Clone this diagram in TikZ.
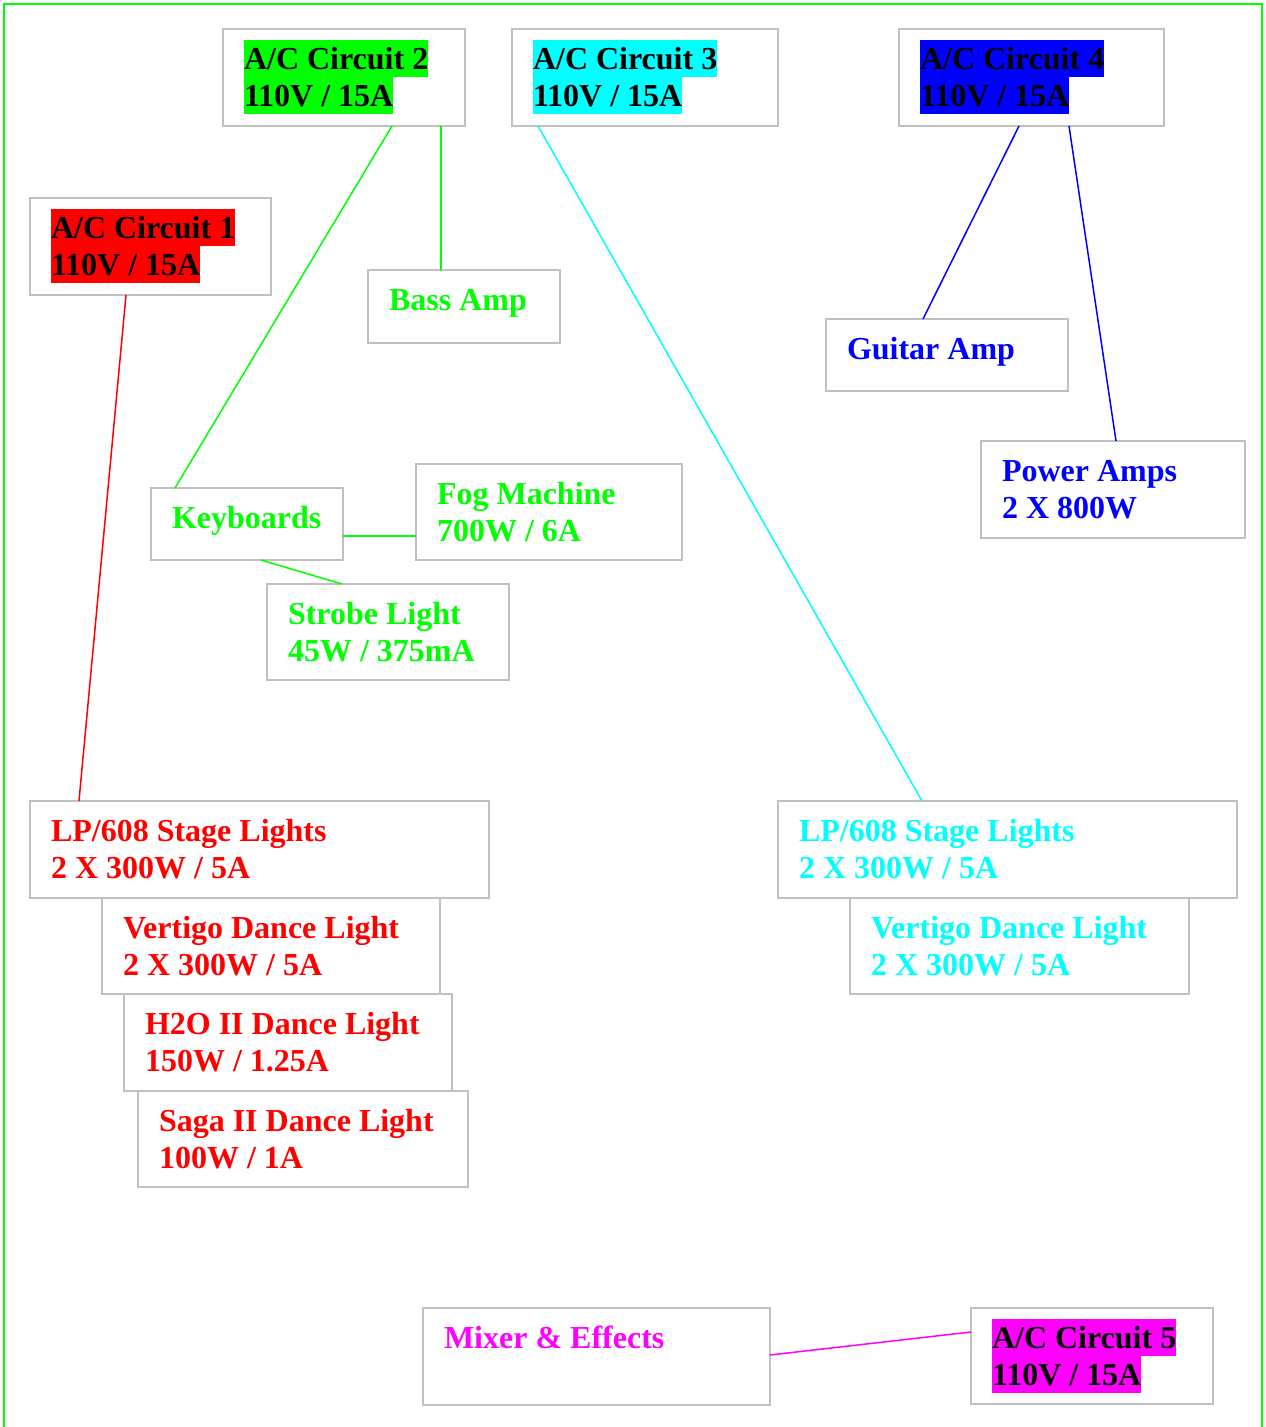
\documentclass[tikz,border=0pt]{standalone}
\usepackage{fontspec}
\setmainfont{Liberation Serif}
\usetikzlibrary{calc}
\definecolor{boxgray}{HTML}{C0C0C0}
\definecolor{cgreen}{HTML}{00FF00}
\definecolor{ccyan}{HTML}{00FFFF}
\definecolor{cblue}{HTML}{0000FF}
\definecolor{cred}{HTML}{FF0000}
\definecolor{cmag}{HTML}{FF00FF}
\newcommand\mystrut{\rule[-8pt]{0pt}{37pt}}
\newcommand\hlt[2]{{\setlength{\fboxsep}{0pt}\colorbox{#1}{\mystrut #2}}}
\newcommand\mybox[7]{%
  \node[dbox, minimum width=#4, minimum height=#5, anchor=north west] (#1) at (#2,#3) {};
  \node[lbl, text=#6, anchor=north west] (#1t) at ($(#1.north west)+(21,11)$) {#7};
}
\tikzset{
  dbox/.style={draw=boxgray, line width=1.6pt, fill=white, inner sep=0pt, outer sep=0pt},
  lbl/.style={inner sep=0pt, outer sep=0pt, align=left, font=\fontsize{32}{37}\selectfont\bfseries},
  wire/.style={line width=1.5pt}
}
\begin{document}
\begin{tikzpicture}[x=1pt,y=-1pt]
\useasboundingbox (0,0) rectangle (1266,1427);
\fill[white] (0,0) rectangle (1266,1427);
\draw[cgreen, line width=2pt] (4,1440) -- (4,4) -- (1262,4) -- (1262,1440);

\mybox{c2}{223}{29}{242}{97}{black}{\hlt{cgreen}{A/C Circuit 2}\\\hlt{cgreen}{110V / 15A}}
\mybox{c3}{512}{29}{266}{97}{black}{\hlt{ccyan}{A/C Circuit 3}\\\hlt{ccyan}{110V / 15A}}
\mybox{c4}{899}{29}{265}{97}{black}{\hlt{cblue}{A/C Circuit 4}\\\hlt{cblue}{110V / 15A}}
\mybox{c1}{30}{198}{241}{97}{black}{\hlt{cred}{A/C Circuit 1}\\\hlt{cred}{110V / 15A}}
\mybox{bass}{368}{270}{192}{73}{cgreen}{\mystrut Bass Amp}
\mybox{guitar}{826}{319}{242}{72}{cblue}{\mystrut Guitar Amp}
\mybox{power}{981}{441}{264}{97}{cblue}{\mystrut Power Amps\\\mystrut 2 X 800W}
\mybox{keys}{151}{488}{192}{72}{cgreen}{\mystrut Keyboards}
\mybox{fog}{416}{464}{266}{96}{cgreen}{\mystrut Fog Machine\\\mystrut 700W / 6A}
\mybox{strobe}{267}{584}{242}{96}{cgreen}{\mystrut Strobe Light\\\mystrut 45W / 375mA}
\mybox{lpr}{30}{801}{459}{97}{cred}{\mystrut LP/608 Stage Lights\\\mystrut 2 X 300W / 5A}
\mybox{vertr}{102}{898}{338}{96}{cred}{\mystrut Vertigo Dance Light\\\mystrut 2 X 300W / 5A}
\mybox{htwo}{124}{994}{328}{97}{cred}{\mystrut H2O II Dance Light\\\mystrut 150W / 1.25A}
\mybox{saga}{138}{1091}{330}{96}{cred}{\mystrut Saga II Dance Light\\\mystrut 100W / 1A}
\mybox{lpc}{778}{801}{459}{97}{ccyan}{\mystrut LP/608 Stage Lights\\\mystrut 2 X 300W / 5A}
\mybox{vertc}{850}{898}{339}{96}{ccyan}{\mystrut Vertigo Dance Light\\\mystrut 2 X 300W / 5A}
\mybox{mixer}{423}{1308}{347}{97}{cmag}{\mystrut Mixer \& Effects}
\mybox{c5}{971}{1308}{242}{96}{black}{\hlt{cmag}{A/C Circuit 5}\\\hlt{cmag}{110V / 15A}}

\draw[wire, cred] ($(c1.south west)+(96,0)$) -- ($(lpr.north west)+(49,0)$);
\draw[wire, cgreen] ($(c2.south west)+(169,0)$) -- ($(keys.north west)+(24,0)$);
\draw[wire, cgreen] ($(c2.south west)+(218,0)$) -- ($(bass.north west)+(73,0)$);
\draw[wire, ccyan] ($(c3.south west)+(26,0)$) -- ($(lpc.north west)+(144,0)$);
\draw[wire, cblue] ($(c4.south west)+(120,0)$) -- ($(guitar.north west)+(97,0)$);
\draw[wire, cblue] ($(c4.south west)+(170,0)$) -- ($(power.north west)+(135,0)$);
\draw[wire, cgreen] ($(keys.north east)+(0,48)$) -- ($(fog.north west)+(0,72)$);
\draw[wire, cgreen] ($(keys.south west)+(110,0)$) -- ($(strobe.north west)+(75,0)$);
\draw[wire, cmag] ($(mixer.north east)+(0,47)$) -- ($(c5.north west)+(0,24)$);
\end{tikzpicture}
\end{document}
